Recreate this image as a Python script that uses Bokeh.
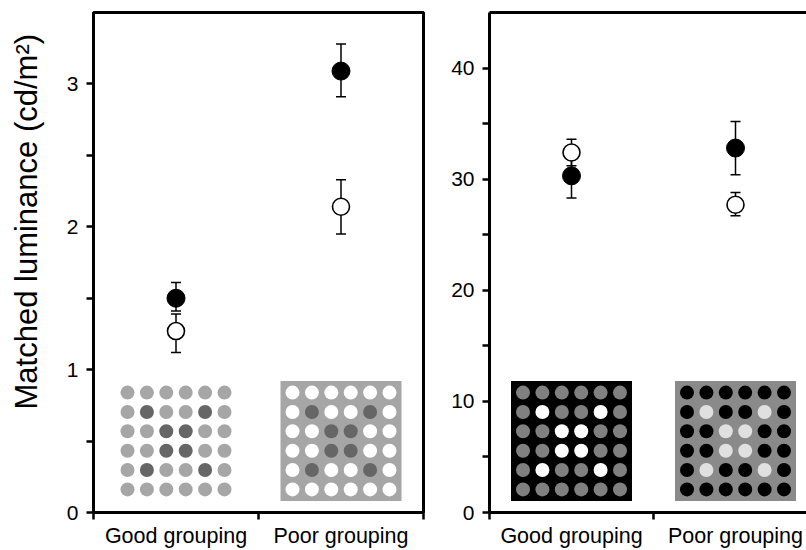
import numpy as np
from bokeh.plotting import figure
from bokeh.models import ColumnDataSource, Whisker, TeeHead, FixedTicker, LinearAxis, Range1d, Title
from bokeh.layouts import row
from bokeh.embed import file_html
from bokeh.resources import INLINE

# ---------------- data ----------------
groups = ["Good grouping", "Poor grouping"]
group_x = [0.5, 1.5]

left_filled = [1.50, 3.09]
left_filled_lo = [1.41, 2.91]
left_filled_hi = [1.61, 3.28]
left_open = [1.27, 2.14]
left_open_lo = [1.12, 1.95]
left_open_hi = [1.39, 2.33]

right_filled = [30.3, 32.8]
right_filled_lo = [28.3, 30.4]
right_filled_hi = [32.0, 35.2]
right_open = [32.4, 27.7]
right_open_lo = [31.2, 26.7]
right_open_hi = [33.6, 28.8]

left_yticks = [0, 1, 2, 3]
left_yminor = [0.5, 1.5, 2.5]
right_yticks = [0, 10, 20, 30, 40]
right_yminor = [5, 15, 25, 35]

y_label = "Matched luminance (cd/m\u00b2)"

# 6x6 stimulus pattern (1 = target dot)
pattern = [
    [0, 0, 0, 0, 0, 0],
    [0, 1, 0, 0, 1, 0],
    [0, 0, 1, 1, 0, 0],
    [0, 0, 1, 1, 0, 0],
    [0, 1, 0, 0, 1, 0],
    [0, 0, 0, 0, 0, 0],
]
# (background, dot colour, target colour) for each inset
left_insets = [(None, "#a6a6a6", "#666666"), ("#a6a6a6", "#ffffff", "#666666")]
right_insets = [("#000000", "#808080", "#ffffff"), ("#8a8a8a", "#000000", "#e0e0e0")]

FONT = "Liberation Sans"
H = 550
BORDER_TOP = 12
BORDER_BOTTOM = 37


def style_axes(p, yticks, yminor):
    p.grid.visible = False
    xa = p.xaxis[0]
    xa.ticker = FixedTicker(ticks=group_x, minor_ticks=[0, 1, 2])
    xa.major_label_overrides = {gx: g for gx, g in zip(group_x, groups)}
    xa.major_tick_line_color = None
    xa.minor_tick_in = 0
    xa.minor_tick_out = 7
    xa.minor_tick_line_width = 2.5
    xa.minor_tick_line_color = "black"
    xa.axis_line_width = 3
    xa.axis_line_color = "black"
    xa.major_label_text_font = FONT
    xa.major_label_text_font_size = "21.5px"
    xa.major_label_text_color = "black"
    xa.major_label_standoff = 4

    ya = p.yaxis[0]
    ya.ticker = FixedTicker(ticks=yticks, minor_ticks=yminor)
    ya.major_tick_in = 0
    ya.major_tick_out = 7
    ya.minor_tick_in = 0
    ya.minor_tick_out = 7
    ya.major_tick_line_width = 2.5
    ya.minor_tick_line_width = 2.5
    ya.major_tick_line_color = "black"
    ya.minor_tick_line_color = "black"
    ya.axis_line_width = 3
    ya.axis_line_color = "black"
    ya.major_label_text_font = FONT
    ya.major_label_text_font_size = "21px"
    ya.major_label_text_color = "black"
    ya.major_label_standoff = 8


def draw_inset(p, cx, cy, xs, ys, bg, dot, target):
    spacing = 19.4
    rr, cc = np.indices((6, 6))
    pat = np.array(pattern).ravel()
    xs_all = cx + (cc.ravel() - 2.5) * spacing * xs
    ys_all = cy + (2.5 - rr.ravel()) * spacing * ys
    if bg is not None:
        p.rect(x=[cx], y=[cy], width=121, height=120, width_units="screen",
               height_units="screen", fill_color=bg, line_color=None)
    colors = [target if v else dot for v in pat]
    p.scatter(x=xs_all, y=ys_all, size=14, fill_color=colors, line_color=None)


def draw_data(p, filled, flo, fhi, opn, olo, ohi):
    fsrc = ColumnDataSource(dict(x=group_x, y=filled, lo=flo, hi=fhi))
    osrc = ColumnDataSource(dict(x=group_x, y=opn, lo=olo, hi=ohi))
    for src in (osrc, fsrc):
        w = Whisker(base="x", upper="hi", lower="lo", source=src, line_width=1.5,
                    line_color="black",
                    upper_head=TeeHead(size=10, line_width=1.5, line_color="black"),
                    lower_head=TeeHead(size=10, line_width=1.5, line_color="black"))
        p.add_layout(w)
    p.scatter("x", "y", source=osrc, size=17, fill_color="white", line_color="black", line_width=1.6)
    p.scatter("x", "y", source=fsrc, size=18, fill_color="black", line_color="black")


# ---------------- left panel ----------------
W1, L1, R1 = 425, 93, 2
x1_end, y1_end = 2.0, 3.5
p1 = figure(width=W1, height=H, x_range=Range1d(0, x1_end), y_range=Range1d(0, y1_end),
            output_backend="svg", toolbar_location=None,
            min_border_left=L1, min_border_right=R1,
            min_border_top=BORDER_TOP, min_border_bottom=BORDER_BOTTOM)
style_axes(p1, left_yticks, left_yminor)
p1.outline_line_color = "black"
p1.outline_line_width = 3
p1.outline_line_alpha = 1
# small spacer between tick labels and the vertical axis title
p1.add_layout(Title(text=" ", text_font_size="1px", standoff=11), "left")
p1.add_layout(Title(text=y_label, align="left", offset=103, standoff=12,
                    text_font=FONT, text_font_size="31px", text_font_style="normal",
                    text_color="black"), "left")

fw1 = W1 - L1 - R1
fh = H - BORDER_TOP - BORDER_BOTTOM
xs1 = x1_end / fw1
ys1 = y1_end / fh
for gx, (bg, dot, tg) in zip(group_x, left_insets):
    draw_inset(p1, gx, 0.143 * y1_end, xs1, ys1, bg, dot, tg)
draw_data(p1, left_filled, left_filled_lo, left_filled_hi, left_open, left_open_lo, left_open_hi)

# ---------------- right panel ----------------
W2, L2, R2 = 381, 64, 0
fw2 = W2 - L2 - R2
x2_end = fw2 / 164.0
y2_end = 45
p2 = figure(width=W2, height=H, x_range=Range1d(0, x2_end), y_range=Range1d(0, y2_end),
            output_backend="svg", toolbar_location=None,
            min_border_left=L2, min_border_right=R2,
            min_border_top=BORDER_TOP, min_border_bottom=BORDER_BOTTOM)
style_axes(p2, right_yticks, right_yminor)
p2.outline_line_color = None
top = LinearAxis(ticker=FixedTicker(ticks=[]), major_label_text_font_size="0px",
                 major_tick_out=0, major_tick_in=0, minor_tick_out=0, minor_tick_in=0,
                 major_label_standoff=0, axis_line_width=3, axis_line_color="black")
p2.add_layout(top, "above")

xs2 = x2_end / fw2
ys2 = y2_end / fh
for gx, (bg, dot, tg) in zip(group_x, right_insets):
    draw_inset(p2, gx, 0.143 * y2_end, xs2, ys2, bg, dot, tg)
draw_data(p2, right_filled, right_filled_lo, right_filled_hi, right_open, right_open_lo, right_open_hi)

layout = row(p1, p2)
open("out.html", "w").write(file_html(layout, INLINE))
